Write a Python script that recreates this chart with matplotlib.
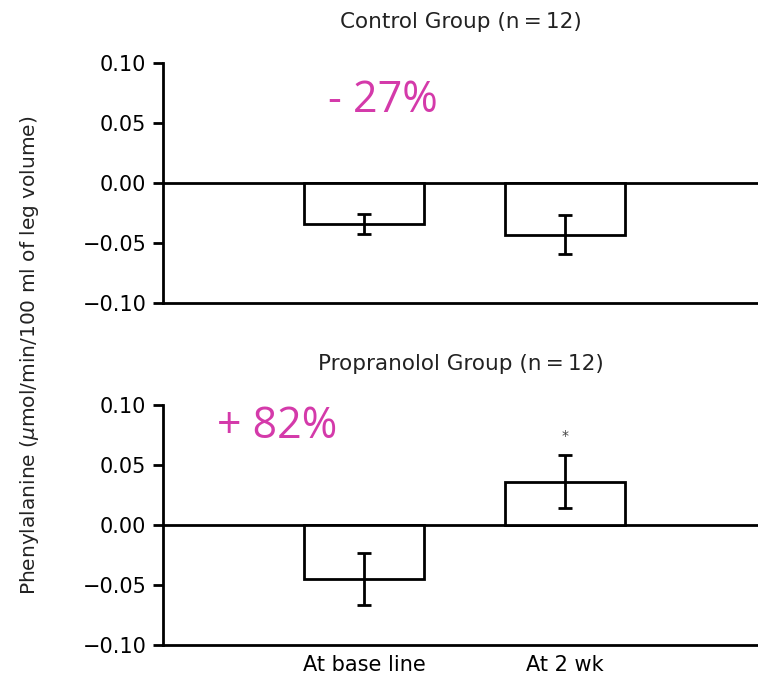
import matplotlib
matplotlib.use('Agg')
import matplotlib.pyplot as plt
from matplotlib.ticker import FuncFormatter

# Данные
categories = ['At base line', 'At 2 wk']
control_mean = [-0.034, -0.043]
control_sem = [0.0085, 0.016]
propranolol_mean = [-0.045, 0.036]
propranolol_sem = [0.022, 0.022]

titles = ['Control Group (n\u2009=\u200912)', 'Propranolol Group (n\u2009=\u200912)']
changes = ['- 27%', '+ 82%']
y_ticks = [-0.10, -0.05, 0.00, 0.05, 0.10]

plt.rcParams['font.family'] = ['DejaVu Sans']
PINK = '#d43aaa'
LW = 2.0

fig = plt.figure(figsize=(7.58, 6.74), dpi=100)
ax_top = fig.add_axes([0.215, 0.5504, 0.785, 0.3561])
ax_bot = fig.add_axes([0.215, 0.0430, 0.785, 0.3561])

fmt = FuncFormatter(lambda v, pos: ('%.2f' % v).replace('-', '\u2212'))
x = list(range(len(categories)))

for ax, means, sems, title in [(ax_top, control_mean, control_sem, titles[0]),
                               (ax_bot, propranolol_mean, propranolol_sem, titles[1])]:
    ax.bar(x, means, width=0.6, color='white', edgecolor='black', linewidth=LW, zorder=2)
    ax.errorbar(x, means, yerr=sems, fmt='none', ecolor='black',
                elinewidth=LW, capsize=4.7, capthick=LW, zorder=3)
    ax.axhline(0, color='black', linewidth=LW, zorder=1)

    ax.set_xlim(-1, 1.96)
    ax.set_ylim(-0.10, 0.10)
    ax.set_yticks(y_ticks)
    ax.yaxis.set_major_formatter(fmt)
    ax.tick_params(axis='y', length=7, width=LW, pad=5, labelsize=15)

    for side in ['top', 'right']:
        ax.spines[side].set_visible(False)
    for side in ['left', 'bottom']:
        ax.spines[side].set_linewidth(LW)

    ax.set_title(title, fontsize=15.5, pad=25, color='#222222')

# Подписи по оси X только у нижнего графика
ax_top.set_xticks([])
ax_bot.set_xticks(x)
ax_bot.set_xticklabels(categories)
ax_bot.tick_params(axis='x', length=0, pad=7, labelsize=15)

# Изменение в процентах
ax_top.text(0.095, 0.059, changes[0], color=PINK, fontsize=31,
            family=['Open Sans', 'DejaVu Sans'], ha='center', va='baseline')
ax_bot.text(-0.43, 0.0725, changes[1], color=PINK, fontsize=31,
            family=['Open Sans', 'DejaVu Sans'], ha='center', va='baseline')

# Значимость
ax_bot.text(1, 0.071, '*', color='#444444', fontsize=10, ha='center', va='baseline')

fig.text(30 / 758, 1 - 355 / 674,
         r'Phenylalanine ($\mu$mol/min/100 ml of leg volume)',
         rotation=90, ha='center', va='center', fontsize=14.5, color='#222222')

plt.savefig('out.png', dpi=100)
